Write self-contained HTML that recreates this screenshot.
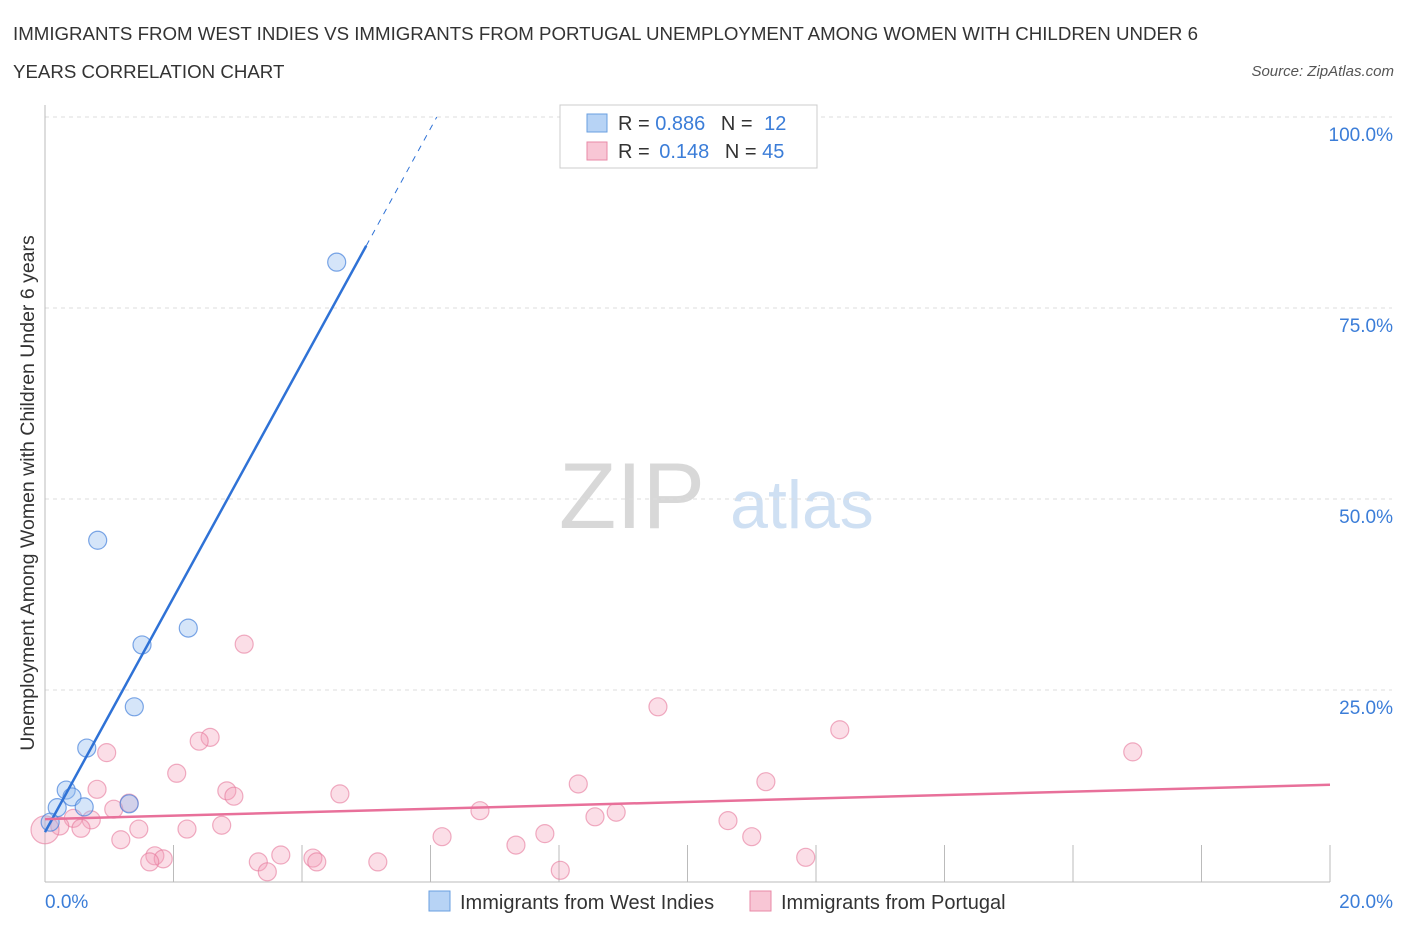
<!DOCTYPE html>
<html><head><meta charset="utf-8"><style>
body{margin:0;background:#fff;font-family:"Liberation Sans",sans-serif;}
svg text{font-family:"Liberation Sans",sans-serif;}
</style></head><body>
<svg id="chart" width="1406" height="930" xmlns="http://www.w3.org/2000/svg">
<text x="13" y="40" font-size="18.7" fill="#333">IMMIGRANTS FROM WEST INDIES VS IMMIGRANTS FROM PORTUGAL UNEMPLOYMENT AMONG WOMEN WITH CHILDREN UNDER 6</text>
<text x="13" y="78" font-size="18.7" fill="#333">YEARS CORRELATION CHART</text>
<text x="1394" y="76" font-size="15" fill="#555" text-anchor="end" font-style="italic">Source: ZipAtlas.com</text>
<text x="632" y="528" font-size="94" fill="#d8d8d8" text-anchor="middle" font-family="Liberation Serif">ZIP</text>
<text x="802" y="528" font-size="68" fill="#cfe0f3" text-anchor="middle">atlas</text>
<g id="grid"></g>
<g id="axes"></g>
<g id="marks"></g>
<text transform="translate(34,493) rotate(-90)" font-size="19.5" fill="#333" text-anchor="middle">Unemployment Among Women with Children Under 6 years</text>
<g>
<rect x="560" y="105" width="257" height="63" fill="#fff" stroke="#ccc"/>
<rect x="587" y="114" width="20" height="18" fill="#b7d3f5" stroke="#6a9fe0"/>
<rect x="587" y="142" width="20" height="18" fill="#f8c6d5" stroke="#e88aa7"/>
<text x="618" y="130" font-size="20" fill="#333">R = <tspan fill="#3b7dd8">0.886</tspan>  <tspan dx="10">N = </tspan><tspan dx="6" fill="#3b7dd8">12</tspan></text>
<text x="618" y="158" font-size="20" fill="#333">R = <tspan dx="4" fill="#3b7dd8">0.148</tspan>  <tspan dx="10">N = </tspan><tspan fill="#3b7dd8">45</tspan></text>
</g>
<g>
<rect x="429" y="891" width="21" height="20" fill="#b7d3f5" stroke="#6a9fe0"/>
<text x="460" y="909" font-size="20" fill="#333">Immigrants from West Indies</text>
<rect x="750" y="891" width="21" height="20" fill="#f8c6d5" stroke="#e88aa7"/>
<text x="781" y="909" font-size="20" fill="#333">Immigrants from Portugal</text>
</g>
</svg>
<script>
const blueX=[4.54,0.82,2.23,1.51,1.39,0.65,0.33,0.42,0.19,0.61,1.31,0.08];
const blueY=[81.0,44.6,33.1,30.9,22.8,17.4,11.9,11.0,9.6,9.7,10.1,7.7];
const pinkX=[3.10,9.54,12.37,16.93,0.96,2.57,2.40,2.05,0.81,11.22,8.30,2.83,2.94,4.59,1.31,6.77,8.89,8.56,1.07,10.63,2.75,0.44,0.72,0.56,0.23,1.46,2.21,7.78,6.18,11.00,1.18,7.33,1.71,1.84,1.63,3.67,4.17,4.23,3.32,5.18,3.46,8.02,11.84,0.0];
const pinkY=[31.0,22.8,19.8,16.9,16.8,18.8,18.3,14.1,12.0,13.0,12.7,11.8,11.1,11.4,10.2,9.2,9.0,8.4,9.4,7.9,7.3,8.2,8.0,6.9,7.2,6.8,6.8,6.2,5.8,5.8,5.4,4.7,3.3,2.9,2.5,3.4,3.0,2.5,2.5,2.5,1.2,1.4,3.1,6.7];
const blueTrend=[6.4,15.35]; // intercept, slope
const pinkTrend=[8.1,0.225];
const yTicks=[25,50,75,100];
const yTickLabels=["25.0%","50.0%","75.0%","100.0%"];
const xTicks=[2,4,6,8,10,12,14,16,18,20];
const NS="http://www.w3.org/2000/svg";
const X=v=>45+v*64.25, Y=v=>881-v*7.64;
function mk(t,a,p){const e=document.createElementNS(NS,t);for(const k in a)e.setAttribute(k,a[k]);document.getElementById(p).appendChild(e);return e;}
yTicks.forEach((t,i)=>{
 const g=mk('line',{x1:45,x2:1392,y1:Y(t),y2:Y(t),stroke:'#ddd','stroke-dasharray':'4,4'},'grid');
 
 
 const l=mk('text',{x:1393,y:Y(t)+24,'font-size':19,fill:'#3b7dd8','text-anchor':'end'},'axes');l.textContent=yTickLabels[i];
 
 
});
let ax=mk('line',{x1:45,x2:45,y1:105,y2:882,stroke:'#bbb'},'axes');


ax=mk('line',{x1:45,x2:1330,y1:882,y2:882,stroke:'#bbb'},'axes');


xTicks.forEach(t=>{const l=mk('line',{x1:X(t),x2:X(t),y1:845,y2:882,stroke:'#bbb'},'axes');
 
 });
let t0=mk('text',{x:45,y:908,'font-size':19,fill:'#3b7dd8'},'axes');t0.textContent='0.0%';


let t1=mk('text',{x:1393,y:908,'font-size':19,fill:'#3b7dd8','text-anchor':'end'},'axes');t1.textContent='20.0%';


pinkX.forEach((x,i)=>{const c=mk('circle',{cx:X(x),cy:Y(pinkY[i]),r:i==pinkX.length-1?14:9,fill:'rgba(244,160,185,0.35)',stroke:'rgba(230,120,155,0.6)','stroke-width':1.2},'marks');
 
 });
blueX.forEach((x,i)=>{const c=mk('circle',{cx:X(x),cy:Y(blueY[i]),r:9,fill:'rgba(150,190,240,0.4)',stroke:'rgba(70,130,220,0.7)','stroke-width':1.2},'marks');
 
 });
const bx1=5.0, bxEnd=(100-blueTrend[0])/blueTrend[1];
let b=mk('line',{x1:X(0),y1:Y(blueTrend[0]),x2:X(bx1),y2:Y(blueTrend[0]+blueTrend[1]*bx1),stroke:'#2f72d6','stroke-width':2.5},'marks');


b=mk('line',{x1:X(bx1),y1:Y(blueTrend[0]+blueTrend[1]*bx1),x2:X(bxEnd),y2:Y(100),stroke:'#2f72d6','stroke-width':1,'stroke-dasharray':'6,6'},'marks');


b=mk('line',{x1:X(0),y1:Y(pinkTrend[0]),x2:X(20),y2:Y(pinkTrend[0]+pinkTrend[1]*20),stroke:'#e8709a','stroke-width':2.5},'marks');


</script>
</body></html>
